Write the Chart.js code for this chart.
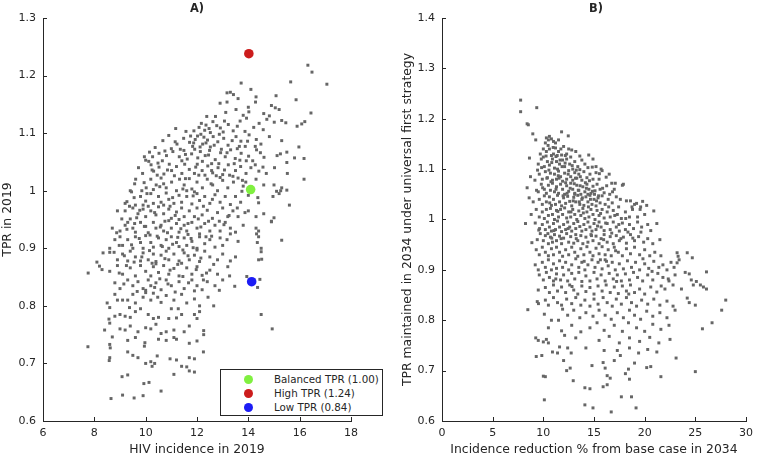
<!DOCTYPE html>
<html>
<head>
<meta charset="utf-8">
<script src="https://cdn.jsdelivr.net/npm/chart.js@4.4.1/dist/chart.umd.min.js"></script>
<style>
  body { margin: 0; background: #fff; width: 759px; height: 458px; overflow: hidden; position: relative;
         font-family: "DejaVu Sans", sans-serif; color: #262626; }
  canvas { position: absolute; top: 0; }
  #chartA { left: 0; }
  #chartB { left: 380px; }
  .title { position: absolute; top: 1px; font-weight: bold; font-size: 11.4px; transform: translateX(-50%); }
  #legendA { position: absolute; left: 220px; top: 369px; width: 161px; height: 45px; border: 1px solid #262626;
             background: #fff; font-size: 10.3px; z-index: 5; }
  .row { position: absolute; left: 0; height: 14px; line-height: 14px; white-space: nowrap; }
  .dot { position: absolute; left: 23px; top: 2.5px; width: 9px; height: 9px; border-radius: 50%; }
  .lbl { position: absolute; left: 53px; top: 0; }
</style>
</head>
<body>
<canvas id="chartA" width="380" height="458"></canvas>
<canvas id="chartB" width="379" height="458"></canvas>
<div class="title" style="left:197px">A)</div>
<div class="title" style="left:596px">B)</div>
<div id="legendA"></div>
<script>
// ---- tick labels ----
const xTicksA = [6, 8, 10, 12, 14, 16, 18];
const yTicksA = [0.6, 0.7, 0.8, 0.9, 1.0, 1.1, 1.2, 1.3];
const xTicksB = [0, 5, 10, 15, 20, 25, 30];
const yTicksB = [0.6, 0.7, 0.8, 0.9, 1.0, 1.1, 1.2, 1.3, 1.4];

// ---- highlighted strategies (panel A) ----
const strategyNames = ['Balanced TPR (1.00)', 'High TPR (1.24)', 'Low TPR (0.84)'];
const strategyIncidence = [14.09, 14.02, 14.13];
const strategyTpr = [1.002, 1.238, 0.842];
const strategyColors = ['#80F040', '#CC1C1C', '#1C1CF5'];

// ---- panel A: [HIV incidence 2019, TPR 2019] ----
const pointsA = [
  [16.32,1.218],[16.48,1.206],[17.06,1.185],[15.65,1.189],[13.72,1.187],[14.1,1.176],
  [15.08,1.165],[14.3,1.163],[14.28,1.154],[15.86,1.158],[13.6,1.16],[13.17,1.17],[13.3,1.171],[13.42,1.167],[12.9,1.152],[13.17,1.154],
  [14.0,1.145],[14.02,1.137],[14.9,1.148],[15.05,1.144],[15.2,1.141],[16.44,1.135],[14.6,1.134],[14.82,1.13],[12.38,1.129],[13.52,1.141],[13.8,1.131],[13.12,1.136],[12.72,1.129],[13.93,1.126],
  [16.2,1.12],[16.08,1.116],[15.9,1.112],[14.72,1.124],[15.01,1.119],[15.3,1.122],[15.46,1.118],[12.35,1.114],[12.3,1.105],[12.62,1.12],[12.91,1.109],[13.22,1.115],[13.41,1.104],[13.68,1.121],[14.21,1.11],[14.42,1.117],[12.08,1.11],[11.88,1.104],[12.52,1.101],[13.02,1.102],[14.58,1.106],
  [10.9,1.096],[11.48,1.091],[11.71,1.084],[11.93,1.089],[12.02,1.095],[12.22,1.081],[12.41,1.088],[12.63,1.094],[12.81,1.085],[13.04,1.091],[13.21,1.079],[13.52,1.094],[13.71,1.086],[14.03,1.097],[14.31,1.089],[14.49,1.081],[14.82,1.094],[15.3,1.087],[15.97,1.076],[11.22,1.081],[11.83,1.077],[12.12,1.076],[13.88,1.077],[12.52,1.076],
  [10.0,1.053],[10.27,1.059],[10.52,1.065],[10.81,1.061],[11.0,1.073],[11.06,1.068],[11.31,1.059],[11.49,1.07],[11.62,1.055],[11.79,1.064],[11.91,1.072],[12.03,1.057],[12.13,1.068],[12.32,1.061],[12.49,1.07],[12.71,1.054],[12.92,1.066],[13.1,1.059],[13.31,1.071],[13.49,1.056],[13.72,1.065],[14.01,1.06],[14.32,1.071],[14.61,1.058],[15.12,1.061],[15.25,1.064],[15.5,1.067],[15.8,1.057],[16.17,1.056],[9.95,1.059],[10.12,1.051],[11.41,1.052],[12.21,1.051],[13.92,1.052],
  [9.88,1.03],[10.21,1.045],[10.31,1.034],[10.52,1.041],[10.71,1.029],[10.92,1.046],[11.01,1.035],[11.2,1.042],[11.41,1.03],[11.52,1.046],[11.7,1.037],[11.9,1.03],[12.01,1.046],[12.2,1.035],[12.42,1.043],[12.61,1.031],[12.82,1.04],[13.0,1.028],[13.22,1.045],[13.5,1.035],[13.7,1.042],[13.91,1.03],[14.1,1.04],[14.41,1.034],[14.7,1.03],[15.02,1.04],[15.5,1.049],[15.52,1.03],[10.48,1.048],[11.12,1.026],[12.31,1.027],[13.4,1.025],[9.72,1.04],
  [9.4,1.0],[9.94,1.014],[9.61,1.02],[10.02,1.005],[10.2,1.02],[10.41,1.01],[10.6,1.022],[10.8,1.005],[11.01,1.015],[11.2,1.0],[11.32,1.02],[11.5,1.01],[11.7,1.021],[11.8,1.003],[12.0,1.015],[12.21,1.005],[12.4,1.02],[12.61,1.01],[12.8,1.0],[13.0,1.018],[13.2,1.005],[13.42,1.015],[13.6,1.022],[13.8,1.008],[14.3,1.02],[14.6,1.01],[15.0,1.01],[15.3,1.005],[16.17,1.02],[15.1,0.999],[15.26,1.0],[15.5,1.001],[10.3,1.002],[10.7,1.012],[11.6,1.0],[12.9,1.023],[13.9,1.015],
  [9.2,0.978],[9.27,0.981],[9.45,0.998],[9.6,0.975],[9.8,0.99],[10.0,0.982],[10.2,0.995],[10.3,0.978],[10.5,0.99],[10.6,0.98],[10.8,0.996],[10.9,0.985],[11.1,0.978],[11.3,0.992],[11.4,0.98],[11.6,0.99],[11.8,0.977],[12.0,0.995],[12.1,0.983],[12.3,0.99],[12.5,0.978],[12.7,0.993],[12.9,0.98],[13.1,0.99],[13.3,0.976],[13.5,0.99],[13.7,0.98],[14.0,0.992],[14.37,0.988],[14.96,0.99],[15.6,0.975],[14.4,0.979],[15.2,0.995],[9.9,0.975],[10.7,0.975],[11.9,0.998],[12.6,0.985],
  [9.2,0.965],[9.4,0.951],[9.5,0.97],[9.7,0.96],[9.9,0.968],[10.0,0.955],[10.2,0.965],[10.4,0.958],[10.5,0.972],[10.7,0.96],[10.9,0.968],[11.0,0.952],[11.2,0.963],[11.4,0.97],[11.5,0.955],[11.7,0.965],[11.9,0.955],[12.0,0.97],[12.2,0.958],[12.4,0.966],[12.6,0.952],[12.8,0.962],[13.0,0.97],[13.2,0.955],[13.4,0.965],[13.6,0.955],[14.0,0.965],[14.3,0.955],[14.6,0.96],[14.9,0.947],[15.0,0.953],[8.9,0.965],[10.1,0.973],[11.3,0.95],
  [9.2,0.94],[8.7,0.935],[9.0,0.93],[9.3,0.945],[9.5,0.935],[9.6,0.928],[9.8,0.945],[10.0,0.938],[10.1,0.927],[10.3,0.945],[10.4,0.935],[10.6,0.94],[10.7,0.93],[10.9,0.948],[11.0,0.935],[11.2,0.943],[11.3,0.928],[11.5,0.94],[11.6,0.93],[11.8,0.945],[12.0,0.935],[12.1,0.925],[12.3,0.943],[12.5,0.93],[12.7,0.94],[12.9,0.93],[13.1,0.945],[13.3,0.935],[13.5,0.928],[13.8,0.94],[14.3,0.935],[14.4,0.93],[14.32,0.925],[14.9,0.946],
  [8.6,0.9],[8.8,0.915],[9.0,0.92],[9.1,0.905],[9.3,0.915],[9.5,0.9],[9.6,0.92],[9.8,0.91],[9.9,0.9],[10.0,0.922],[10.2,0.91],[10.3,0.902],[10.5,0.918],[10.6,0.905],[10.8,0.915],[10.9,0.9],[11.0,0.92],[11.2,0.91],[11.3,0.903],[11.5,0.918],[11.6,0.905],[11.8,0.912],[12.0,0.9],[12.1,0.92],[12.3,0.908],[12.5,0.915],[12.7,0.902],[12.9,0.918],[13.0,0.905],[13.3,0.925],[13.6,0.912],[14.35,0.91],[14.4,0.92],[15.3,0.914],[14.5,0.9],
  [8.1,0.876],[8.34,0.892],[8.6,0.893],[8.9,0.88],[9.1,0.89],[9.3,0.878],[9.4,0.895],[9.6,0.885],[9.8,0.878],[9.9,0.892],[10.1,0.88],[10.3,0.89],[10.4,0.877],[10.6,0.888],[10.8,0.895],[10.9,0.88],[11.1,0.89],[11.3,0.878],[11.5,0.892],[11.7,0.88],[11.9,0.888],[12.1,0.877],[12.3,0.895],[12.5,0.885],[12.8,0.88],[13.0,0.89],[13.3,0.878],[13.5,0.885],[14.4,0.88],[14.52,0.881],[14.5,0.894],[12.0,0.897],
  [7.76,0.857],[8.2,0.869],[8.3,0.863],[8.6,0.86],[8.9,0.87],[9.1,0.855],[9.4,0.866],[9.6,0.852],[9.8,0.87],[10.0,0.86],[10.2,0.852],[10.3,0.868],[10.5,0.858],[10.7,0.87],[10.9,0.855],[11.1,0.865],[11.3,0.852],[11.6,0.866],[11.8,0.855],[12.0,0.868],[12.2,0.853],[12.5,0.862],[12.8,0.855],[13.2,0.868],[13.94,0.851],[10.4,0.873],[11.4,0.874],
  [8.8,0.84],[9.0,0.83],[9.3,0.845],[9.5,0.835],[9.7,0.842],[9.9,0.83],[10.1,0.845],[10.2,0.835],[10.4,0.84],[10.6,0.828],[10.8,0.845],[11.0,0.835],[11.3,0.842],[11.5,0.83],[11.8,0.845],[12.0,0.835],[12.2,0.828],[12.4,0.842],[12.7,0.835],[13.0,0.845],[13.47,0.834],[14.36,0.832],[14.45,0.846],[10.0,0.827],[11.9,0.826],
  [8.5,0.805],[8.8,0.82],[8.9,0.81],[9.1,0.81],[9.3,0.81],[9.5,0.82],[9.6,0.805],[9.9,0.815],[10.2,0.81],[10.3,0.822],[10.6,0.806],[10.8,0.818],[11.1,0.81],[11.4,0.82],[11.6,0.805],[11.9,0.812],[12.1,0.8],[12.43,0.815],[12.65,0.8],[8.6,0.797],[10.0,0.823],
  [8.57,0.777],[8.8,0.782],[9.0,0.785],[9.2,0.782],[9.4,0.78],[9.6,0.79],[10.1,0.785],[10.3,0.778],[10.5,0.78],[10.9,0.778],[11.2,0.779],[11.4,0.785],[11.9,0.785],[12.1,0.79],[12.0,0.778],[14.5,0.785],[9.8,0.795],[11.0,0.795],
  [8.4,0.758],[8.6,0.77],[9.0,0.76],[9.2,0.758],[9.4,0.765],[9.7,0.755],[10.0,0.762],[10.2,0.76],[10.6,0.752],[10.8,0.755],[11.1,0.758],[11.5,0.755],[11.7,0.765],[12.26,0.757],[12.26,0.75],[14.93,0.76],[8.7,0.746],[10.4,0.768],
  [7.75,0.729],[8.6,0.733],[8.62,0.727],[9.3,0.74],[9.6,0.745],[9.95,0.73],[9.97,0.736],[10.5,0.742],[10.8,0.74],[11.1,0.745],[11.7,0.735],[12.0,0.739],[11.2,0.742],
  [8.6,0.71],[8.58,0.705],[9.3,0.72],[9.5,0.714],[9.7,0.71],[10.0,0.7],[10.2,0.703],[10.35,0.7],[10.45,0.713],[10.95,0.708],[11.2,0.706],[11.7,0.71],[12.25,0.72],[11.9,0.708],
  [9.08,0.677],[9.3,0.68],[10.25,0.695],[11.1,0.681],[11.4,0.695],[11.6,0.694],[11.9,0.685],[11.7,0.687],
  [9.93,0.665],[10.13,0.667],[10.6,0.652],
  [8.65,0.639],[9.1,0.645],[9.55,0.64],[9.9,0.644],
  [10.15,1.067],[10.65,1.052],[11.15,1.085],[11.35,1.072],[11.75,1.095],[12.15,1.098],[12.45,1.062],[12.85,1.047],[10.45,1.027],[10.85,1.036],[11.55,1.021],[11.95,1.041],[12.55,1.012],[12.75,1.026],[10.05,0.995],[10.55,1.007],[11.05,0.988],[11.45,1.003],[11.85,0.991],[12.25,0.973],
  [10.35,0.962],[10.75,0.947],[11.15,0.957],[11.65,0.943],[12.05,0.951],[12.45,0.947],[9.65,0.953],[9.95,0.938],[10.45,0.921],[10.85,0.927],[11.25,0.919],[11.65,0.924],[12.15,0.937],[9.75,0.917],[10.15,0.896],[10.65,0.903],[11.05,0.907],[11.45,0.897],[11.85,0.901],[12.35,0.92],
  [9.45,0.906],[9.85,0.885],[10.25,0.874],[10.75,0.882],[11.25,0.872],[11.65,0.887],[12.15,0.883],[9.25,0.87],[9.55,0.876],[10.55,0.847],[10.95,0.862],[11.45,0.851],[12.65,0.872],[9.15,0.838],[10.35,0.832],[11.15,0.824],[12.25,0.845],[13.25,0.957],[13.45,1.047],[13.75,0.999],
  [13.05,0.941],[12.95,1.072],[13.65,1.077],[12.35,1.083],[11.55,1.063],[10.75,1.069],[10.25,1.036],[9.85,1.0],[9.55,0.988],[10.95,0.973],
  [12.17,1.117],[12.47,1.108],[12.77,1.113],[13.07,1.121],[13.57,1.112],[13.87,1.103],[12.27,1.093],[12.87,1.098],[13.37,1.087],[13.97,1.086],[14.27,1.077],[12.67,1.079],[13.17,1.066],[13.57,1.073],[14.17,1.052],[14.47,1.066],[12.57,1.047],[13.07,1.036],[13.67,1.053],[14.27,1.045],
  [12.07,1.027],[12.57,1.035],[13.27,1.027],[13.77,1.018],[14.57,1.041],[11.17,1.108],[11.57,1.103],[10.67,1.087],[10.37,1.075],[11.87,1.083],[9.57,1.012],[9.37,0.973],[9.07,0.951],[8.87,0.927],[8.97,0.905],[9.17,0.887],[8.77,0.893],[9.27,0.933],[9.57,0.943],[9.77,0.966],
  [10.57,0.937],[11.37,0.934],[11.77,0.917],[12.57,0.921],[12.87,0.947],[13.17,0.915],[13.57,0.97],[13.87,0.962],[10.87,0.838],[11.67,0.84],[12.37,0.857],[9.67,0.825],[10.47,0.815],[11.27,0.795],[9.37,0.797],[12.87,0.827],[13.27,0.852],[8.97,0.857],[11.97,0.863],[10.17,0.923]
];

// ---- panel B: [incidence reduction %, TPR maintained 2034] ----
const pointsB = [
  [7.76,1.237],[7.76,1.214],[9.35,1.222],[8.4,1.19],[8.52,1.188],
  [8.96,1.17],[9.25,1.158],[11.8,1.174],[12.46,1.166],[10.3,1.162],[10.5,1.158],[10.8,1.16],[11.0,1.155],[11.2,1.152],[10.6,1.165],[10.2,1.152],[11.5,1.158],
  [10.0,1.14],[10.3,1.135],[10.6,1.14],[11.0,1.13],[11.2,1.142],[11.5,1.135],[11.8,1.128],[12.0,1.145],[12.3,1.13],[12.8,1.138],[13.2,1.135],[13.6,1.126],[14.48,1.128],[12.5,1.14],[10.8,1.127],[9.7,1.13],
  [8.63,1.122],[9.5,1.11],[9.8,1.12],[10.1,1.105],[10.4,1.115],[10.6,1.108],[10.9,1.12],[11.1,1.102],[11.3,1.115],[11.6,1.11],[11.9,1.118],[12.1,1.105],[12.3,1.12],[12.6,1.11],[12.9,1.1],[13.1,1.115],[13.4,1.105],[13.8,1.118],[14.1,1.11],[14.4,1.103],[14.9,1.12],[15.2,1.105],[10.0,1.124],[11.4,1.1],[12.7,1.124],
  [8.73,1.085],[9.6,1.09],[9.9,1.08],[10.2,1.095],[10.4,1.083],[10.7,1.092],[10.9,1.078],[11.1,1.09],[11.3,1.08],[11.5,1.096],[11.7,1.085],[11.9,1.076],[12.1,1.092],[12.3,1.08],[12.5,1.097],[12.7,1.085],[12.9,1.078],[13.1,1.093],[13.3,1.082],[13.5,1.09],[13.8,1.078],[14.0,1.095],[14.3,1.083],[14.6,1.09],[14.9,1.08],[15.2,1.093],[15.8,1.097],[15.7,1.1],[16.2,1.084],[16.5,1.09],[15.5,1.08],[13.6,1.099],
  [8.4,1.063],[9.5,1.055],[9.8,1.07],[10.1,1.06],[10.3,1.052],[10.5,1.068],[10.7,1.058],[10.9,1.072],[11.1,1.055],[11.3,1.065],[11.5,1.052],[11.7,1.07],[11.9,1.06],[12.1,1.05],[12.3,1.067],[12.5,1.056],[12.7,1.072],[12.9,1.06],[13.1,1.052],[13.3,1.068],[13.5,1.058],[13.7,1.05],[13.9,1.065],[14.1,1.055],[14.3,1.07],[14.5,1.06],[14.7,1.052],[14.9,1.066],[15.1,1.057],[15.3,1.07],[15.6,1.06],[16.0,1.053],[16.75,1.072],[17.1,1.072],[17.8,1.068],[17.9,1.07],[17.0,1.06],[14.4,1.05],[12.2,1.073],
  [8.6,1.043],[9.0,1.035],[9.6,1.04],[9.9,1.03],[10.1,1.047],[10.3,1.035],[10.6,1.045],[10.8,1.028],[11.0,1.04],[11.2,1.03],[11.4,1.048],[11.6,1.035],[11.8,1.027],[12.0,1.043],[12.2,1.032],[12.4,1.046],[12.6,1.036],[12.8,1.027],[13.0,1.044],[13.2,1.035],[13.4,1.048],[13.6,1.03],[13.8,1.04],[14.0,1.028],[14.2,1.045],[14.4,1.035],[14.6,1.048],[14.8,1.03],[15.0,1.04],[15.2,1.027],[15.4,1.043],[15.6,1.033],[15.8,1.047],[16.1,1.03],[16.4,1.04],[16.8,1.033],[17.6,1.04],[18.2,1.037],[18.6,1.037],[19.0,1.03],[19.2,1.032],[19.8,1.036],[20.2,1.028],[17.2,1.045],[13.1,1.05],
  [8.8,1.01],[9.3,1.02],[9.6,1.005],[9.9,1.015],[10.1,1.002],[10.3,1.02],[10.5,1.008],[10.7,1.022],[10.9,1.01],[11.1,1.0],[11.3,1.018],[11.5,1.005],[11.7,1.02],[11.9,1.01],[12.1,1.023],[12.3,1.003],[12.5,1.015],[12.7,1.005],[12.9,1.02],[13.1,1.01],[13.3,1.0],[13.5,1.017],[13.7,1.008],[13.9,1.022],[14.1,1.002],[14.3,1.015],[14.5,1.005],[14.7,1.02],[14.9,1.01],[15.1,1.0],[15.3,1.018],[15.5,1.008],[15.8,1.02],[16.0,1.003],[16.3,1.015],[16.6,1.005],[16.9,1.018],[17.3,1.01],[17.7,1.002],[18.1,1.015],[18.5,1.005],[18.8,1.02],[19.55,1.02],[19.3,1.005],[20.0,1.01],[20.9,1.017],[18.75,1.025],[19.6,1.025],
  [8.24,0.992],[9.2,0.993],[9.55,0.979],[9.9,0.99],[10.2,0.98],[10.4,0.995],[10.6,0.985],[10.8,0.977],[11.0,0.992],[11.2,0.98],[11.4,0.997],[11.6,0.985],[11.8,0.976],[12.0,0.99],[12.2,0.98],[12.4,0.995],[12.6,0.985],[12.8,0.977],[13.0,0.992],[13.2,0.982],[13.4,0.996],[13.6,0.986],[13.8,0.977],[14.0,0.99],[14.2,0.98],[14.4,0.995],[14.6,0.985],[14.8,0.977],[15.0,0.992],[15.2,0.98],[15.5,0.995],[15.7,0.985],[16.0,0.978],[16.3,0.992],[16.6,0.98],[16.9,0.995],[17.2,0.985],[17.5,0.977],[17.8,0.993],[18.1,0.98],[18.5,0.99],[18.9,0.982],[19.3,0.995],[19.7,0.985],[20.3,0.99],[21.2,0.992],[20.6,0.978],
  [8.87,0.954],[9.4,0.96],[9.7,0.972],[10.0,0.958],[10.2,0.968],[10.5,0.952],[10.7,0.965],[10.9,0.955],[11.1,0.97],[11.3,0.958],[11.6,0.967],[11.8,0.952],[12.0,0.963],[12.3,0.972],[12.5,0.955],[12.7,0.966],[13.0,0.953],[13.2,0.97],[13.4,0.958],[13.7,0.968],[13.9,0.952],[14.2,0.965],[14.4,0.955],[14.7,0.97],[14.9,0.958],[15.2,0.967],[15.5,0.952],[15.7,0.962],[16.0,0.97],[16.3,0.955],[16.6,0.966],[16.9,0.952],[17.2,0.968],[17.5,0.958],[17.9,0.965],[18.2,0.953],[18.6,0.97],[19.0,0.958],[19.4,0.966],[19.9,0.955],[20.3,0.962],[21.5,0.96],[20.8,0.952],
  [9.3,0.94],[9.6,0.93],[9.9,0.945],[10.2,0.935],[10.5,0.928],[10.8,0.942],[11.0,0.93],[11.3,0.945],[11.6,0.935],[11.9,0.927],[12.2,0.94],[12.5,0.93],[12.8,0.945],[13.1,0.935],[13.4,0.927],[13.7,0.942],[14.0,0.93],[14.3,0.946],[14.6,0.935],[14.9,0.928],[15.2,0.943],[15.5,0.932],[15.8,0.946],[16.1,0.93],[16.4,0.94],[16.7,0.928],[17.0,0.945],[17.4,0.935],[17.8,0.928],[18.2,0.942],[18.6,0.932],[19.0,0.945],[19.5,0.93],[20.0,0.94],[20.5,0.928],[21.0,0.935],[21.6,0.928],[23.2,0.934],[24.2,0.934],[24.7,0.924],[23.3,0.927],
  [9.2,0.91],[9.5,0.9],[9.9,0.915],[10.2,0.905],[10.5,0.92],[10.8,0.9],[11.0,0.912],[11.3,0.903],[11.6,0.918],[11.9,0.905],[12.2,0.915],[12.5,0.9],[12.8,0.91],[13.2,0.922],[13.5,0.905],[13.8,0.915],[14.1,0.9],[14.4,0.91],[14.8,0.92],[15.1,0.905],[15.4,0.915],[15.8,0.902],[16.1,0.92],[16.4,0.908],[16.8,0.915],[17.1,0.9],[17.5,0.912],[17.9,0.902],[18.3,0.918],[18.7,0.905],[19.1,0.915],[19.5,0.9],[20.0,0.912],[20.4,0.903],[20.9,0.917],[21.4,0.905],[21.8,0.91],[22.2,0.9],[22.6,0.915],[23.2,0.914],[23.4,0.92],[22.9,0.905],
  [9.6,0.89],[10.0,0.88],[10.3,0.895],[10.6,0.885],[11.0,0.878],[11.3,0.892],[11.7,0.88],[12.0,0.89],[12.4,0.878],[12.8,0.893],[13.1,0.882],[13.5,0.895],[13.8,0.877],[14.2,0.888],[14.6,0.878],[15.0,0.895],[15.3,0.882],[15.7,0.89],[16.1,0.878],[16.5,0.893],[16.9,0.882],[17.3,0.89],[17.7,0.878],[18.1,0.892],[18.5,0.88],[18.9,0.895],[19.3,0.885],[19.8,0.878],[20.3,0.89],[20.8,0.88],[21.3,0.893],[21.8,0.885],[22.4,0.878],[23.0,0.89],[24.0,0.895],[24.4,0.892],[24.6,0.88],[25.1,0.877],[26.1,0.896],
  [9.5,0.86],[10.2,0.865],[10.6,0.855],[11.0,0.87],[11.4,0.858],[11.8,0.866],[12.2,0.855],[12.6,0.87],[13.0,0.86],[13.4,0.852],[13.8,0.868],[14.2,0.857],[14.6,0.865],[15.0,0.852],[15.4,0.868],[15.8,0.858],[16.2,0.87],[16.6,0.855],[17.0,0.866],[17.4,0.853],[17.8,0.868],[18.2,0.858],[18.6,0.87],[19.0,0.855],[19.5,0.862],[20.0,0.852],[20.6,0.866],[21.2,0.856],[22.0,0.862],[22.8,0.87],[25.5,0.87],[25.8,0.866],[26.1,0.862],[24.8,0.87],
  [9.4,0.837],[9.52,0.833],[10.2,0.84],[10.5,0.83],[11.0,0.845],[11.4,0.835],[11.8,0.83],[12.3,0.842],[12.8,0.833],[13.2,0.845],[13.7,0.83],[14.1,0.84],[14.6,0.828],[15.0,0.842],[15.4,0.832],[15.9,0.845],[16.3,0.835],[16.8,0.828],[17.2,0.842],[17.7,0.832],[18.2,0.845],[18.7,0.835],[19.2,0.828],[19.7,0.84],[20.3,0.832],[20.9,0.842],[21.5,0.83],[22.2,0.838],[22.8,0.828],[24.2,0.844],[24.4,0.835],[25.0,0.83],[28.0,0.84],
  [8.47,0.821],[10.8,0.8],[11.5,0.8],[12.4,0.81],[13.0,0.82],[13.6,0.805],[14.2,0.815],[14.9,0.808],[15.5,0.82],[16.1,0.81],[16.7,0.802],[17.3,0.815],[17.9,0.805],[18.5,0.82],[19.0,0.81],[19.6,0.802],[20.2,0.818],[20.8,0.808],[21.5,0.815],[22.2,0.805],[23.0,0.82],[27.6,0.82],[10.1,0.812],[11.9,0.822],
  [11.8,0.779],[12.8,0.79],[13.7,0.777],[14.6,0.785],[15.3,0.795],[16.0,0.78],[17.0,0.79],[17.8,0.778],[18.4,0.795],[19.2,0.785],[20.0,0.778],[20.8,0.792],[21.6,0.782],[22.4,0.79],[26.65,0.795],[25.7,0.783],[10.5,0.785],
  [9.25,0.765],[9.5,0.76],[10.0,0.757],[10.3,0.762],[10.5,0.755],[13.2,0.765],[15.5,0.76],[16.5,0.768],[17.5,0.755],[18.5,0.765],[19.5,0.758],[20.5,0.766],[21.4,0.755],[22.5,0.762],[12.1,0.77],
  [9.3,0.728],[9.85,0.73],[10.9,0.737],[11.4,0.735],[12.4,0.745],[12.75,0.735],[14.2,0.745],[16.0,0.74],[17.3,0.74],[17.6,0.73],[18.5,0.745],[19.4,0.735],[20.3,0.742],[21.2,0.737],[23.1,0.725],[11.6,0.747],
  [12.3,0.7],[12.65,0.705],[14.8,0.71],[15.9,0.716],[16.1,0.705],[18.4,0.703],[20.2,0.706],[20.6,0.708],[12.0,0.72],[17.0,0.72],[19.0,0.715],
  [10.0,0.689],[10.2,0.688],[12.95,0.68],[18.5,0.683],[18.1,0.694],[21.6,0.688],[25.0,0.698],[16.3,0.69],[16.6,0.685],
  [14.1,0.666],[14.6,0.664],[15.9,0.668],[16.3,0.672],
  [10.1,0.642],[14.1,0.632],[14.9,0.626],[16.7,0.618],[17.7,0.648],[18.7,0.648],[19.15,0.626],
  [10.55,1.098],[11.25,1.125],[11.65,1.118],[12.15,1.112],[11.85,1.105],[12.45,1.09],[12.85,1.107],[13.25,1.098],[13.65,1.085],[14.15,1.073],[14.55,1.077],[13.05,1.071],[12.65,1.062],[13.45,1.058],[13.85,1.043],[14.25,1.062],[14.65,1.04],[15.05,1.05],[15.45,1.047],[15.85,1.062],
  [16.25,1.067],[16.55,1.05],[15.25,1.037],[14.85,1.056],[13.55,1.035],[12.95,1.037],[12.35,1.052],[11.95,1.047],[11.25,1.06],[10.75,1.075],[10.35,1.082],[11.55,1.082],[13.95,1.013],[14.45,1.025],[15.65,1.012],[16.45,1.025],[17.05,1.008],[16.15,0.993],[15.35,0.987],[14.75,0.968],
  [15.95,0.96],[16.75,0.973],[17.45,0.99],[17.65,0.962],[18.35,0.975],[13.25,0.962],[12.45,0.982],[11.75,0.962],[11.05,0.978],[10.45,0.972],
  [9.83,1.103],[10.27,1.126],[10.47,1.147],[10.97,1.143],[11.37,1.127],[11.73,1.14],[12.17,1.127],[10.83,1.113],[11.47,1.087],[9.93,1.063],[10.63,1.033],[9.33,1.058],[9.17,1.078],[9.43,1.098],[11.43,1.016],[12.73,1.015],[13.63,1.067],[13.17,1.082],[14.83,1.104],[15.53,1.091],
  [16.83,1.055],[17.43,1.025],[18.13,1.002],[18.83,0.963],[19.63,0.975],[17.13,0.938],[16.23,0.917],[15.63,0.92],[19.83,0.922],[20.73,0.897],[21.63,0.868],[22.33,0.882],[23.63,0.862],[18.43,0.852],[17.23,0.877],[14.03,0.917],[12.83,0.867],[11.23,0.882],[10.83,0.963],[9.63,0.982]
];

const TEXT = '#262626';
const DOT = '#666666';

// inward tick marks, placed through the chart's own scales
const inwardTicks = {
  id: 'inwardTicks',
  afterDraw(chart) {
    const ctx = chart.ctx;
    const xs = chart.scales.x, ys = chart.scales.y;
    const area = chart.chartArea;
    ctx.save();
    ctx.strokeStyle = TEXT;
    ctx.lineWidth = 1;
    ctx.beginPath();
    xs.ticks.forEach(t => {
      const px = Math.round(xs.getPixelForValue(t.value)) + 0.5;
      ctx.moveTo(px, area.bottom);
      ctx.lineTo(px, area.bottom - 4);
    });
    ys.ticks.forEach(t => {
      const py = Math.round(ys.getPixelForValue(t.value)) + 0.5;
      ctx.moveTo(area.left, py);
      ctx.lineTo(area.left + 4, py);
    });
    ctx.stroke();
    ctx.restore();
  }
};

function fmt(v) { return String(Math.round(v * 10) / 10); }

function makeScales(xMin, xMax, xTicks, xTitle, yMin, yMax, yTicks, yTitle, yWidth, yTitlePad) {
  const tickFont = { family: 'DejaVu Sans', size: 11 };
  const titleFont = { family: 'DejaVu Sans', size: 12.4 };
  return {
    x: {
      type: 'linear', min: xMin, max: xMax,
      afterBuildTicks: s => { s.ticks = xTicks.map(v => ({ value: v })); },
      afterFit: s => { s.height = 37; },
      grid: { display: false, drawTicks: false },
      border: { display: true, color: TEXT, width: 1 },
      ticks: { color: TEXT, font: tickFont, padding: 6, maxRotation: 0, autoSkip: false, callback: v => fmt(v) },
      title: { display: true, text: xTitle, color: TEXT, font: titleFont, padding: { top: 0, bottom: 0.5 } }
    },
    y: {
      type: 'linear', min: yMin, max: yMax,
      afterBuildTicks: s => { s.ticks = yTicks.map(v => ({ value: v })); },
      afterFit: s => { s.width = yWidth; },
      grid: { display: false, drawTicks: false },
      border: { display: true, color: TEXT, width: 1 },
      ticks: { color: TEXT, font: tickFont, padding: 7, autoSkip: false, callback: v => fmt(v) },
      title: { display: true, text: yTitle, color: TEXT, font: titleFont, padding: { top: yTitlePad, bottom: 0 } }
    }
  };
}

const baseOptions = {
  responsive: false,
  animation: false,
  events: [],
  plugins: { legend: { display: false }, tooltip: { enabled: false } }
};

new Chart(document.getElementById('chartA'), {
  type: 'scatter',
  data: {
    datasets: strategyNames.map((name, i) => ({
      label: name,
      data: [{ x: strategyIncidence[i], y: strategyTpr[i] }],
      backgroundColor: strategyColors[i],
      borderWidth: 0,
      pointRadius: 4.8,
      order: 0
    })).concat([{
      label: 'Simulations',
      data: pointsA.map(p => ({ x: p[0], y: p[1] })),
      backgroundColor: DOT,
      borderWidth: 0,
      pointStyle: 'rect',
      pointRadius: 2.1,
      order: 1
    }])
  },
  options: Object.assign({}, baseOptions, {
    layout: { padding: { top: 18, right: 29, left: 0, bottom: 0 } },
    scales: makeScales(6, 18, xTicksA, 'HIV incidence in 2019', 0.6, 1.3, yTicksA, 'TPR in 2019', 43, 0.5)
  }),
  plugins: [inwardTicks]
});

new Chart(document.getElementById('chartB'), {
  type: 'scatter',
  data: {
    datasets: [{
      label: 'Simulations',
      data: pointsB.map(p => ({ x: p[0], y: p[1] })),
      backgroundColor: DOT,
      borderWidth: 0,
      pointStyle: 'rect',
      pointRadius: 2.1
    }]
  },
  options: Object.assign({}, baseOptions, {
    layout: { padding: { top: 18, right: 9, left: 0, bottom: 0 } },
    scales: makeScales(0, 30, xTicksB, 'Incidence reduction % from base case in 2034', 0.6, 1.4, yTicksB,
                       'TPR maintained in 2034 under universal first strategy', 62, 20)
  }),
  plugins: [inwardTicks]
});

// legend box for panel A
const legend = document.getElementById('legendA');
strategyNames.forEach((name, i) => {
  const row = document.createElement('div');
  row.className = 'row';
  row.style.top = (2 + i * 14.2) + 'px';
  row.innerHTML = '<span class="dot" style="background:' + strategyColors[i] + '"></span><span class="lbl"></span>';
  row.querySelector('.lbl').textContent = name;
  legend.appendChild(row);
});
</script>
</body>
</html>
